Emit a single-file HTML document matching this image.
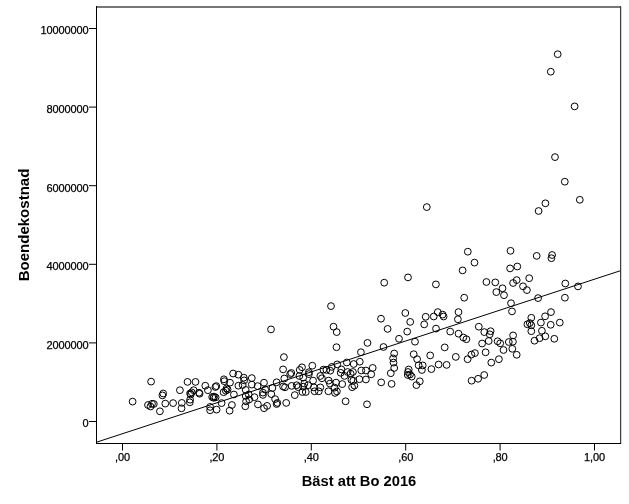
<!DOCTYPE html>
<html><head><meta charset="utf-8"><style>
html,body{margin:0;padding:0;background:#fff;width:629px;height:504px;overflow:hidden}
svg{display:block;will-change:transform}
text{font-family:"Liberation Sans",sans-serif;fill:#000}
.tl text{font-size:11px;stroke:#000;stroke-width:0.25px;letter-spacing:-0.12px}
.ttl{font-size:15.5px;font-weight:bold}
</style></head><body>
<svg width="629" height="504" viewBox="0 0 629 504">
<rect width="629" height="504" fill="#fff"/>
<rect x="96" y="6" width="525" height="2" fill="#777"/>
<rect x="620" y="6" width="1" height="438" fill="#3c3c3c"/>
<rect x="621" y="7" width="1" height="437" fill="#d4d4d4"/>
<rect x="96" y="6" width="1" height="438" fill="#000"/>
<rect x="96" y="443" width="525" height="1" fill="#000"/>
<g stroke="#000" stroke-width="1" fill="none"><line x1="89" y1="28.5" x2="96" y2="28.5"/><line x1="89" y1="107.1" x2="96" y2="107.1"/><line x1="89" y1="185.7" x2="96" y2="185.7"/><line x1="89" y1="264.3" x2="96" y2="264.3"/><line x1="89" y1="342.9" x2="96" y2="342.9"/><line x1="89" y1="421.5" x2="96" y2="421.5"/><line x1="122.5" y1="443" x2="122.5" y2="450.5"/><line x1="216.9" y1="443" x2="216.9" y2="450.5"/><line x1="311.3" y1="443" x2="311.3" y2="450.5"/><line x1="405.7" y1="443" x2="405.7" y2="450.5"/><line x1="500.1" y1="443" x2="500.1" y2="450.5"/><line x1="594.5" y1="443" x2="594.5" y2="450.5"/></g>
<g stroke="#000" stroke-width="1" fill="none"><line x1="97" y1="442.05" x2="620" y2="270.85"/></g>
<g stroke="#000" stroke-width="1" fill="none">
<circle cx="557.7" cy="54.2" r="3.4"/>
<circle cx="550.8" cy="71.7" r="3.4"/>
<circle cx="574.6" cy="106.4" r="3.4"/>
<circle cx="555.0" cy="157.1" r="3.4"/>
<circle cx="564.8" cy="181.7" r="3.4"/>
<circle cx="579.8" cy="199.8" r="3.4"/>
<circle cx="545.4" cy="203.3" r="3.4"/>
<circle cx="538.6" cy="211.0" r="3.4"/>
<circle cx="426.8" cy="207.1" r="3.4"/>
<circle cx="384.2" cy="282.7" r="3.4"/>
<circle cx="467.8" cy="251.7" r="3.4"/>
<circle cx="474.5" cy="262.6" r="3.4"/>
<circle cx="462.6" cy="270.4" r="3.4"/>
<circle cx="408.0" cy="277.4" r="3.4"/>
<circle cx="435.9" cy="284.4" r="3.4"/>
<circle cx="510.5" cy="250.8" r="3.4"/>
<circle cx="536.7" cy="255.9" r="3.4"/>
<circle cx="552.1" cy="255.0" r="3.4"/>
<circle cx="551.4" cy="258.2" r="3.4"/>
<circle cx="510.1" cy="268.4" r="3.4"/>
<circle cx="517.3" cy="266.5" r="3.4"/>
<circle cx="486.4" cy="282.0" r="3.4"/>
<circle cx="495.3" cy="282.4" r="3.4"/>
<circle cx="513.1" cy="283.0" r="3.4"/>
<circle cx="516.7" cy="280.1" r="3.4"/>
<circle cx="529.2" cy="278.2" r="3.4"/>
<circle cx="565.3" cy="283.5" r="3.4"/>
<circle cx="578.0" cy="286.4" r="3.4"/>
<circle cx="271.0" cy="329.4" r="3.4"/>
<circle cx="331.0" cy="306.1" r="3.4"/>
<circle cx="333.5" cy="326.7" r="3.4"/>
<circle cx="336.7" cy="332.1" r="3.4"/>
<circle cx="381.0" cy="318.7" r="3.4"/>
<circle cx="387.6" cy="328.9" r="3.4"/>
<circle cx="367.5" cy="342.9" r="3.4"/>
<circle cx="399.0" cy="338.8" r="3.4"/>
<circle cx="464.2" cy="297.7" r="3.4"/>
<circle cx="405.3" cy="313.0" r="3.4"/>
<circle cx="410.2" cy="321.9" r="3.4"/>
<circle cx="407.2" cy="331.6" r="3.4"/>
<circle cx="415.0" cy="341.7" r="3.4"/>
<circle cx="425.7" cy="316.8" r="3.4"/>
<circle cx="424.2" cy="324.4" r="3.4"/>
<circle cx="433.7" cy="316.5" r="3.4"/>
<circle cx="437.8" cy="312.1" r="3.4"/>
<circle cx="442.6" cy="314.6" r="3.4"/>
<circle cx="443.6" cy="316.5" r="3.4"/>
<circle cx="436.0" cy="328.6" r="3.4"/>
<circle cx="458.5" cy="312.1" r="3.4"/>
<circle cx="457.9" cy="319.3" r="3.4"/>
<circle cx="450.2" cy="331.6" r="3.4"/>
<circle cx="458.5" cy="333.7" r="3.4"/>
<circle cx="463.3" cy="337.5" r="3.4"/>
<circle cx="466.4" cy="339.2" r="3.4"/>
<circle cx="496.3" cy="292.1" r="3.4"/>
<circle cx="502.5" cy="288.3" r="3.4"/>
<circle cx="504.0" cy="295.2" r="3.4"/>
<circle cx="526.9" cy="290.1" r="3.4"/>
<circle cx="511.0" cy="303.2" r="3.4"/>
<circle cx="512.0" cy="311.4" r="3.4"/>
<circle cx="538.1" cy="298.1" r="3.4"/>
<circle cx="551.0" cy="312.1" r="3.4"/>
<circle cx="545.1" cy="316.3" r="3.4"/>
<circle cx="531.3" cy="317.8" r="3.4"/>
<circle cx="540.9" cy="322.6" r="3.4"/>
<circle cx="550.7" cy="324.8" r="3.4"/>
<circle cx="531.3" cy="331.2" r="3.4"/>
<circle cx="541.9" cy="330.8" r="3.4"/>
<circle cx="545.3" cy="336.3" r="3.4"/>
<circle cx="539.6" cy="338.2" r="3.4"/>
<circle cx="534.5" cy="340.7" r="3.4"/>
<circle cx="478.8" cy="326.7" r="3.4"/>
<circle cx="484.3" cy="332.1" r="3.4"/>
<circle cx="490.6" cy="331.2" r="3.4"/>
<circle cx="489.7" cy="334.3" r="3.4"/>
<circle cx="488.7" cy="341.0" r="3.4"/>
<circle cx="482.1" cy="343.5" r="3.4"/>
<circle cx="497.6" cy="341.3" r="3.4"/>
<circle cx="500.2" cy="343.3" r="3.4"/>
<circle cx="513.1" cy="335.4" r="3.4"/>
<circle cx="508.8" cy="342.0" r="3.4"/>
<circle cx="512.9" cy="341.7" r="3.4"/>
<circle cx="527.4" cy="324.3" r="3.4"/>
<circle cx="529.8" cy="323.1" r="3.4"/>
<circle cx="531.3" cy="325.3" r="3.4"/>
<circle cx="523.0" cy="286.3" r="3.4"/>
<circle cx="564.9" cy="297.7" r="3.4"/>
<circle cx="559.8" cy="322.6" r="3.4"/>
<circle cx="554.3" cy="338.8" r="3.4"/>
<circle cx="151.1" cy="381.6" r="3.4"/>
<circle cx="163.2" cy="393.5" r="3.4"/>
<circle cx="162.4" cy="395.4" r="3.4"/>
<circle cx="132.6" cy="401.6" r="3.4"/>
<circle cx="165.3" cy="403.6" r="3.4"/>
<circle cx="148.0" cy="405.0" r="3.4"/>
<circle cx="150.5" cy="406.5" r="3.4"/>
<circle cx="152.0" cy="403.8" r="3.4"/>
<circle cx="153.8" cy="404.0" r="3.4"/>
<circle cx="159.9" cy="411.3" r="3.4"/>
<circle cx="187.5" cy="381.9" r="3.4"/>
<circle cx="195.5" cy="381.9" r="3.4"/>
<circle cx="179.9" cy="390.2" r="3.4"/>
<circle cx="205.3" cy="385.7" r="3.4"/>
<circle cx="207.9" cy="390.2" r="3.4"/>
<circle cx="193.6" cy="390.2" r="3.4"/>
<circle cx="199.0" cy="392.7" r="3.4"/>
<circle cx="199.6" cy="393.7" r="3.4"/>
<circle cx="190.1" cy="393.4" r="3.4"/>
<circle cx="190.7" cy="394.5" r="3.4"/>
<circle cx="191.7" cy="392.4" r="3.4"/>
<circle cx="190.1" cy="399.7" r="3.4"/>
<circle cx="189.8" cy="402.3" r="3.4"/>
<circle cx="181.8" cy="402.9" r="3.4"/>
<circle cx="181.5" cy="408.3" r="3.4"/>
<circle cx="233.1" cy="373.5" r="3.4"/>
<circle cx="238.4" cy="374.7" r="3.4"/>
<circle cx="243.8" cy="377.7" r="3.4"/>
<circle cx="223.9" cy="379.3" r="3.4"/>
<circle cx="224.3" cy="381.2" r="3.4"/>
<circle cx="230.0" cy="382.7" r="3.4"/>
<circle cx="216.3" cy="386.1" r="3.4"/>
<circle cx="226.6" cy="388.4" r="3.4"/>
<circle cx="238.4" cy="385.7" r="3.4"/>
<circle cx="242.6" cy="385.0" r="3.4"/>
<circle cx="244.2" cy="380.4" r="3.4"/>
<circle cx="245.7" cy="389.9" r="3.4"/>
<circle cx="214.0" cy="396.6" r="3.4"/>
<circle cx="215.6" cy="397.4" r="3.4"/>
<circle cx="223.6" cy="392.2" r="3.4"/>
<circle cx="225.8" cy="390.7" r="3.4"/>
<circle cx="233.9" cy="394.5" r="3.4"/>
<circle cx="245.7" cy="396.0" r="3.4"/>
<circle cx="248.7" cy="394.5" r="3.4"/>
<circle cx="212.2" cy="397.0" r="3.4"/>
<circle cx="213.6" cy="397.8" r="3.4"/>
<circle cx="221.6" cy="403.1" r="3.4"/>
<circle cx="210.1" cy="406.9" r="3.4"/>
<circle cx="210.1" cy="410.3" r="3.4"/>
<circle cx="216.6" cy="409.6" r="3.4"/>
<circle cx="231.9" cy="405.0" r="3.4"/>
<circle cx="229.6" cy="410.7" r="3.4"/>
<circle cx="283.9" cy="357.1" r="3.4"/>
<circle cx="283.1" cy="369.4" r="3.4"/>
<circle cx="251.8" cy="378.1" r="3.4"/>
<circle cx="251.8" cy="384.6" r="3.4"/>
<circle cx="257.6" cy="386.1" r="3.4"/>
<circle cx="264.0" cy="382.7" r="3.4"/>
<circle cx="276.6" cy="382.3" r="3.4"/>
<circle cx="272.4" cy="388.0" r="3.4"/>
<circle cx="284.3" cy="378.5" r="3.4"/>
<circle cx="283.1" cy="386.5" r="3.4"/>
<circle cx="285.0" cy="387.3" r="3.4"/>
<circle cx="265.2" cy="389.6" r="3.4"/>
<circle cx="245.3" cy="406.3" r="3.4"/>
<circle cx="246.1" cy="401.4" r="3.4"/>
<circle cx="249.2" cy="399.4" r="3.4"/>
<circle cx="254.5" cy="397.2" r="3.4"/>
<circle cx="257.9" cy="404.4" r="3.4"/>
<circle cx="264.0" cy="408.2" r="3.4"/>
<circle cx="267.1" cy="405.9" r="3.4"/>
<circle cx="262.9" cy="394.9" r="3.4"/>
<circle cx="262.9" cy="392.6" r="3.4"/>
<circle cx="271.3" cy="394.1" r="3.4"/>
<circle cx="275.1" cy="399.1" r="3.4"/>
<circle cx="277.4" cy="402.9" r="3.4"/>
<circle cx="276.6" cy="404.0" r="3.4"/>
<circle cx="286.2" cy="402.9" r="3.4"/>
<circle cx="312.3" cy="365.7" r="3.4"/>
<circle cx="302.0" cy="367.3" r="3.4"/>
<circle cx="299.7" cy="369.9" r="3.4"/>
<circle cx="290.2" cy="374.1" r="3.4"/>
<circle cx="291.3" cy="373.0" r="3.4"/>
<circle cx="299.4" cy="376.0" r="3.4"/>
<circle cx="303.2" cy="377.6" r="3.4"/>
<circle cx="308.9" cy="372.2" r="3.4"/>
<circle cx="308.9" cy="374.1" r="3.4"/>
<circle cx="323.4" cy="369.6" r="3.4"/>
<circle cx="326.4" cy="369.9" r="3.4"/>
<circle cx="331.8" cy="366.9" r="3.4"/>
<circle cx="330.3" cy="370.7" r="3.4"/>
<circle cx="320.3" cy="376.0" r="3.4"/>
<circle cx="321.9" cy="378.3" r="3.4"/>
<circle cx="313.1" cy="380.6" r="3.4"/>
<circle cx="328.7" cy="380.6" r="3.4"/>
<circle cx="294.8" cy="395.1" r="3.4"/>
<circle cx="291.7" cy="385.9" r="3.4"/>
<circle cx="296.7" cy="385.2" r="3.4"/>
<circle cx="298.2" cy="387.1" r="3.4"/>
<circle cx="303.2" cy="386.7" r="3.4"/>
<circle cx="304.3" cy="383.6" r="3.4"/>
<circle cx="302.4" cy="392.0" r="3.4"/>
<circle cx="305.8" cy="392.0" r="3.4"/>
<circle cx="308.1" cy="385.2" r="3.4"/>
<circle cx="313.9" cy="387.4" r="3.4"/>
<circle cx="314.6" cy="391.3" r="3.4"/>
<circle cx="318.8" cy="391.3" r="3.4"/>
<circle cx="320.3" cy="387.4" r="3.4"/>
<circle cx="328.4" cy="391.3" r="3.4"/>
<circle cx="329.9" cy="383.6" r="3.4"/>
<circle cx="336.5" cy="347.2" r="3.4"/>
<circle cx="360.9" cy="352.2" r="3.4"/>
<circle cx="346.8" cy="362.5" r="3.4"/>
<circle cx="353.7" cy="364.0" r="3.4"/>
<circle cx="359.8" cy="361.7" r="3.4"/>
<circle cx="337.2" cy="364.4" r="3.4"/>
<circle cx="341.4" cy="369.4" r="3.4"/>
<circle cx="340.7" cy="372.8" r="3.4"/>
<circle cx="347.6" cy="372.0" r="3.4"/>
<circle cx="350.6" cy="373.6" r="3.4"/>
<circle cx="352.9" cy="372.0" r="3.4"/>
<circle cx="361.3" cy="370.5" r="3.4"/>
<circle cx="365.9" cy="370.5" r="3.4"/>
<circle cx="372.7" cy="367.9" r="3.4"/>
<circle cx="371.2" cy="374.3" r="3.4"/>
<circle cx="344.5" cy="375.9" r="3.4"/>
<circle cx="345.6" cy="401.3" r="3.4"/>
<circle cx="367.0" cy="404.3" r="3.4"/>
<circle cx="342.2" cy="384.1" r="3.4"/>
<circle cx="336.1" cy="382.6" r="3.4"/>
<circle cx="334.6" cy="387.6" r="3.4"/>
<circle cx="336.9" cy="391.4" r="3.4"/>
<circle cx="335.0" cy="392.9" r="3.4"/>
<circle cx="351.4" cy="379.9" r="3.4"/>
<circle cx="353.3" cy="380.7" r="3.4"/>
<circle cx="352.1" cy="387.2" r="3.4"/>
<circle cx="354.4" cy="385.6" r="3.4"/>
<circle cx="359.4" cy="379.2" r="3.4"/>
<circle cx="365.9" cy="379.5" r="3.4"/>
<circle cx="383.5" cy="347.0" r="3.4"/>
<circle cx="394.2" cy="353.5" r="3.4"/>
<circle cx="393.1" cy="358.4" r="3.4"/>
<circle cx="393.5" cy="362.6" r="3.4"/>
<circle cx="394.2" cy="368.0" r="3.4"/>
<circle cx="413.7" cy="354.2" r="3.4"/>
<circle cx="417.1" cy="359.2" r="3.4"/>
<circle cx="418.6" cy="365.3" r="3.4"/>
<circle cx="408.7" cy="369.5" r="3.4"/>
<circle cx="381.2" cy="382.4" r="3.4"/>
<circle cx="391.6" cy="383.9" r="3.4"/>
<circle cx="390.8" cy="373.2" r="3.4"/>
<circle cx="416.4" cy="385.1" r="3.4"/>
<circle cx="419.8" cy="381.3" r="3.4"/>
<circle cx="408.0" cy="372.0" r="3.4"/>
<circle cx="410.0" cy="374.5" r="3.4"/>
<circle cx="411.7" cy="376.6" r="3.4"/>
<circle cx="407.8" cy="375.0" r="3.4"/>
<circle cx="444.7" cy="347.4" r="3.4"/>
<circle cx="430.2" cy="355.4" r="3.4"/>
<circle cx="455.8" cy="356.9" r="3.4"/>
<circle cx="438.6" cy="364.5" r="3.4"/>
<circle cx="446.6" cy="364.9" r="3.4"/>
<circle cx="431.4" cy="369.1" r="3.4"/>
<circle cx="422.7" cy="365.4" r="3.4"/>
<circle cx="421.9" cy="370.0" r="3.4"/>
<circle cx="503.5" cy="350.0" r="3.4"/>
<circle cx="485.6" cy="352.3" r="3.4"/>
<circle cx="471.4" cy="354.6" r="3.4"/>
<circle cx="474.9" cy="353.1" r="3.4"/>
<circle cx="467.6" cy="359.2" r="3.4"/>
<circle cx="491.3" cy="362.6" r="3.4"/>
<circle cx="498.9" cy="359.2" r="3.4"/>
<circle cx="471.6" cy="380.7" r="3.4"/>
<circle cx="478.1" cy="378.8" r="3.4"/>
<circle cx="484.2" cy="375.0" r="3.4"/>
<circle cx="512.3" cy="348.8" r="3.4"/>
<circle cx="516.7" cy="354.8" r="3.4"/>
<circle cx="173.1" cy="403.1" r="3.4"/>
<circle cx="215.4" cy="387.0" r="3.4"/>
<circle cx="227.6" cy="389.6" r="3.4"/>
</g>
<g class="tl"><text x="88.4" y="34.3" text-anchor="end">10000000</text><text x="88.4" y="112.9" text-anchor="end">8000000</text><text x="88.4" y="191.5" text-anchor="end">6000000</text><text x="88.4" y="270.1" text-anchor="end">4000000</text><text x="88.4" y="348.7" text-anchor="end">2000000</text><text x="88.4" y="427.3" text-anchor="end">0</text><text x="122.5" y="461" text-anchor="middle">,00</text><text x="216.9" y="461" text-anchor="middle">,20</text><text x="311.3" y="461" text-anchor="middle">,40</text><text x="405.7" y="461" text-anchor="middle">,60</text><text x="500.1" y="461" text-anchor="middle">,80</text><text x="594.5" y="461" text-anchor="middle">1,00</text></g>
<text class="ttl" x="0" y="0" text-anchor="middle" transform="translate(29 225) rotate(-90) scale(0.97 1)">Boendekostnad</text>
<text class="ttl" x="0" y="0" text-anchor="middle" transform="translate(359 486) scale(0.95 1)">Bäst att Bo 2016</text>
</svg>
</body></html>
